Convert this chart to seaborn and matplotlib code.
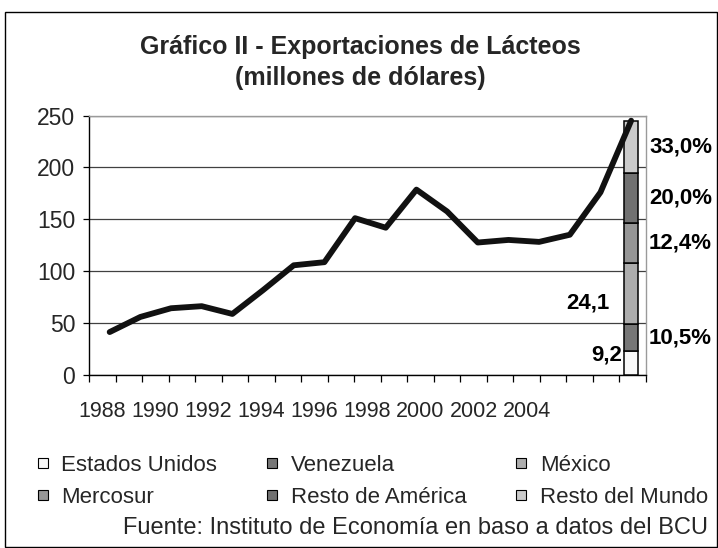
import matplotlib
matplotlib.use("Agg")
import matplotlib.pyplot as plt
from matplotlib.patches import Patch, Rectangle
import seaborn as sns

# Annual dairy exports (millions of USD)
years = list(range(1988, 2006))
exports = [41, 55.6, 64, 66, 58.5, 81.5, 105.5, 108.5, 151, 141.8,
           178.6, 157.5, 127.5, 130, 128.1, 135, 176, 245.2]

# 2005 breakdown by destination (millions of USD) and the printed shares
regions = ["Estados Unidos", "Venezuela", "México",
           "Mercosur", "Resto de América", "Resto del Mundo"]
region_values = [22.6, 25.7, 59.1, 38.5, 49.0, 50.3]
region_labels = ["9,2", "10,5%", "24,1", "12,4%", "20,0%", "33,0%"]
region_colors = ["#F8F8F8", "#777777", "#ADADAD", "#969696", "#717171", "#CBCBCB"]

year_labels = ["1988", "1990", "1992", "1994", "1996",
               "1998", "2000", "2002", "2004"]
y_ticks = [0, 50, 100, 150, 200, 250]

sns.set_style("white")
plt.rcParams["font.family"] = ["Liberation Sans", "DejaVu Sans"]

W, H = 718, 548
fig = plt.figure(figsize=(W / 100, H / 100), dpi=100)
fig.patch.set_facecolor("white")

# outer chart frame
fig.patches.append(Rectangle((4.5 / W, 1.5 / H), 712 / W, 534.5 / H,
                             transform=fig.transFigure, fill=False,
                             edgecolor="black", lw=1.0))

ax = fig.add_axes([89 / W, 1 - 374.5 / H, 557 / W, 258.8 / H])
ax.set_facecolor("white")
ax.set_xlim(0, 21)
ax.set_ylim(0, 250)
ax.set_yticks(y_ticks)
ax.set_yticklabels([str(v) for v in y_ticks])
ax.yaxis.grid(True, color="#404040", lw=0.9)
ax.xaxis.grid(False)
ax.set_axisbelow(True)

# category slots: tick marks between years, labels centred in slots
ax.set_xticks(range(22))
ax.set_xticklabels([])
ax.set_xticks([0.5 + 2 * i for i in range(len(year_labels))], minor=True)
ax.set_xticklabels(year_labels, minor=True)
ax.tick_params(axis="x", which="major", direction="out", length=5,
               width=0.9, color="black", bottom=True)
ax.tick_params(axis="x", which="minor", length=0, pad=19, labelsize=15.5)
ax.tick_params(axis="y", direction="out", length=4, width=0.9,
               color="black", left=True, pad=6, labelsize=16.5)

for side in ("left", "bottom"):
    ax.spines[side].set_color("black")
    ax.spines[side].set_linewidth(1.0)
for side in ("top", "right"):
    ax.spines[side].set_color("#9A9A9A")
    ax.spines[side].set_linewidth(1.0)

# yearly series on its own horizontal scale
ax2 = ax.twiny()
ax2.axis("off")

bar_width = 0.437
bottom = 0
for name, val, col in zip(regions, region_values, region_colors):
    ax2.bar(2005, val, bottom=bottom, width=bar_width, color=col,
            edgecolor="black", linewidth=1.1, zorder=3)
    bottom += val

sns.lineplot(x=years, y=exports, ax=ax2, color="#111111", linewidth=4.2,
             solid_capstyle="round", solid_joinstyle="round", zorder=5)
ax2.set_xlim(1987.326, 2005.484)
ax2.set_ylim(0, 250)
if ax2.get_legend() is not None:
    ax2.get_legend().remove()

# value labels beside the stacked bar
label_side = ["left", "right", "left", "right", "right", "right"]
label_shift = [(-1.5, 5.4), (8, 0), (-11, -6.5), (8, 0), (8, 0), (8, 0)]
bottom = 0
for val, txt, side, (dx, dy) in zip(region_values, region_labels,
                                     label_side, label_shift):
    mid = bottom + val / 2
    bottom += val
    x_edge = 2005 - bar_width / 2 if side == "left" else 2005 + bar_width / 2
    ax2.annotate(txt, xy=(x_edge, mid), xytext=(dx, dy),
                 textcoords="offset points",
                 ha="right" if side == "left" else "left", va="center",
                 fontsize=16, fontweight="bold", color="black", zorder=6)

# titles
fig.text(360 / W, 1 - 47 / H, "Gráfico II - Exportaciones de Lácteos",
         ha="center", va="center", fontsize=18, fontweight="bold")
fig.text(360 / W, 1 - 78 / H, "(millones de dólares)",
         ha="center", va="center", fontsize=18, fontweight="bold")

# legend laid out row by row in three columns
handles = [Patch(facecolor=c, edgecolor="black", linewidth=0.8, label=r)
           for r, c in zip(regions, region_colors)]
order = [0, 3, 1, 4, 2, 5]
fig.legend([handles[i] for i in order], [regions[i] for i in order],
           loc="upper left", bbox_to_anchor=(38 / W, 1 - 455 / H),
           ncol=3, frameon=False, fontsize=16, handlelength=0.45,
           handleheight=0.32, handletextpad=0.6, columnspacing=2.25,
           labelspacing=0.5, borderaxespad=0, borderpad=0)

fig.text(708 / W, 1 - 528 / H,
         "Fuente: Instituto de Economía en baso a datos del BCU",
         ha="right", va="center", fontsize=17)

fig.savefig("out.png", dpi=100, facecolor="white")
